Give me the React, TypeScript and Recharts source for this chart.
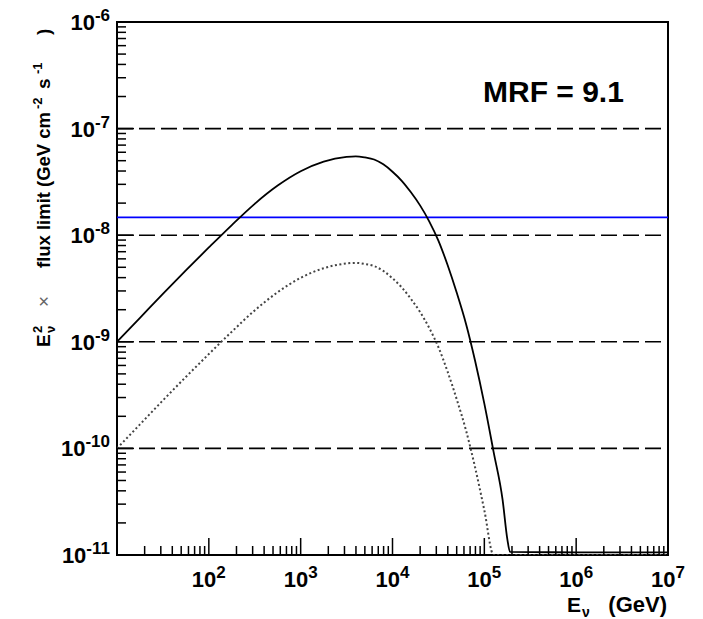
import React from "react";
import { LineChart, Line, XAxis, YAxis, ReferenceLine, ReferenceArea } from "recharts";

// Neutrino energy (GeV)
const energies = [
  10, 17.8, 31.6, 56.2, 100, 178, 316, 562, 1000, 1780, 3160, 3980, 5010, 6310,
  7940, 10000, 12600, 15800, 19950, 25100, 31600, 39800, 50100, 63100, 79400,
  100000, 126000, 158000, 178000, 190500, 1000000, 10000000,
];
// E^2 x flux limit, solid curve
const solidFlux = [
  1.0e-9, 1.68e-9, 2.82e-9, 4.68e-9, 7.67e-9, 1.245e-8, 1.97e-8, 2.92e-8, 3.98e-8,
  4.9e-8, 5.43e-8, 5.5e-8, 5.37e-8, 5.13e-8, 4.62e-8, 3.94e-8, 3.24e-8, 2.54e-8,
  1.905e-8, 1.35e-8, 8.91e-9, 5.25e-9, 2.88e-9, 1.48e-9, 6.61e-10, 2.63e-10,
  9.33e-11, 3.31e-11, 1.41e-11, 1.07e-11, 1.06e-11, 1.06e-11,
];
// E^2 x flux limit, dotted curve
const dottedFlux = [
  1.0e-10, 1.68e-10, 2.82e-10, 4.68e-10, 7.67e-10, 1.245e-9, 1.97e-9, 2.92e-9, 3.98e-9,
  4.9e-9, 5.43e-9, 5.5e-9, 5.37e-9, 5.13e-9, 4.62e-9, 3.94e-9, 3.24e-9, 2.54e-9,
  1.905e-9, 1.35e-9, 8.91e-10, 5.25e-10, 2.88e-10, 1.48e-10, 6.61e-11, 2.63e-11,
  1.0e-11, 1.0e-11, 1.0e-11, 1.0e-11, 1.0e-11, 1.0e-11,
];
const blueLimit = 1.47e-8;
const gridDecades = [1e-7, 1e-8, 1e-9, 1e-10];
const xDecadeExps = [1, 2, 3, 4, 5, 6, 7];
const yDecadeExps = [-11, -10, -9, -8, -7, -6];
const minorMultipliers = [2, 3, 4, 5, 6, 7, 8, 9];
const xLabelExps = [2, 3, 4, 5, 6, 7];

const buildTicks = (exps: number[]) => {
  const t: number[] = [];
  exps.forEach((e, i) => {
    t.push(Math.pow(10, e));
    if (i < exps.length - 1) minorMultipliers.forEach((m) => t.push(m * Math.pow(10, e)));
  });
  return t;
};
const xTicks = buildTicks(xDecadeExps);
const yTicks = buildTicks(yDecadeExps);

const data = energies.map((e, i) => ({ e, solid: solidFlux[i], dotted: dottedFlux[i] }));

const FONT = "'Liberation Sans', Arial, Helvetica, sans-serif";

const decadeOf = (v: number) => {
  const exp = Math.round(Math.log10(v));
  const major = Math.abs(v - Math.pow(10, exp)) / v < 1e-6;
  return { exp, major };
};

const XTick = (props: any) => {
  const { x, y, payload } = props;
  const { exp, major } = decadeOf(payload.value);
  const len = major ? 17 : 9;
  return (
    <g>
      <line x1={x} y1={y} x2={x} y2={y - len} stroke="#000" strokeWidth={1.5} />
      {major && xLabelExps.includes(exp) && (
        <text x={x} y={y + 32} textAnchor="middle" fontSize={22} fontWeight="bold" fontFamily={FONT} fill="#000">
          10<tspan dy={-9} fontSize={17}>{exp}</tspan>
        </text>
      )}
    </g>
  );
};

const YTick = (props: any) => {
  const { x, y, payload } = props;
  const { exp, major } = decadeOf(payload.value);
  const len = major ? 17 : 9;
  return (
    <g>
      <line x1={x} y1={y} x2={x + len} y2={y} stroke="#000" strokeWidth={1.5} />
      {major && (
        <text x={x - 7} y={y + 8} textAnchor="end" fontSize={22} fontWeight="bold" fontFamily={FONT} fill="#000">
          10<tspan dy={-9} fontSize={17}>{exp}</tspan>
        </text>
      )}
    </g>
  );
};

export default function App() {
  return (
    <div style={{ position: "absolute", left: 0, top: 0, width: 703, height: 619, background: "#fff" }}>
      <LineChart width={703} height={619} data={data} margin={{ top: 22, right: 35, bottom: 24, left: 57 }}>
        <XAxis
          dataKey="e"
          type="number"
          scale="log"
          domain={[10, 1e7]}
          allowDataOverflow
          ticks={xTicks}
          interval={0}
          tick={<XTick />}
          tickLine={false}
          tickSize={0}
          tickMargin={0}
          axisLine={false}
          height={40}
        />
        <YAxis
          type="number"
          scale="log"
          domain={[1e-11, 1e-6]}
          allowDataOverflow
          ticks={yTicks}
          interval={0}
          tick={<YTick />}
          tickLine={false}
          tickSize={0}
          tickMargin={0}
          axisLine={false}
          width={60}
        />
        {gridDecades.map((g) => (
          <ReferenceLine key={g} y={g} stroke="#000" strokeWidth={1.6} strokeDasharray="16 6" />
        ))}
        <ReferenceLine y={blueLimit} stroke="#0000ff" strokeWidth={1.6} />
        <Line type="monotone" dataKey="dotted" stroke="#444" strokeWidth={2} strokeDasharray="2 2.5" dot={false} isAnimationActive={false} />
        <Line type="monotone" dataKey="solid" stroke="#000" strokeWidth={1.8} dot={false} isAnimationActive={false} />
        <ReferenceArea x1={10} x2={1e7} y1={1e-11} y2={1e-6} fill="none" fillOpacity={0} stroke="#000" strokeWidth={2} />
      </LineChart>
      <svg width={703} height={619} style={{ position: "absolute", left: 0, top: 0, pointerEvents: "none" }}>
        <g transform="translate(50,347) rotate(-90)" fontFamily={FONT} fontWeight="bold" fontSize={19} fill="#000">
          <text x={0} y={0}>E</text>
          <text x={14} y={-8} fontSize={13}>2</text>
          <text x={14} y={5} fontSize={13}>ν</text>
          <text x={40} y={0} fontWeight="normal" fill="#666">×</text>
          <text x={79} y={0} textLength={156} lengthAdjust="spacingAndGlyphs">flux limit (GeV cm</text>
          <text x={238} y={-8} fontSize={13}>-2</text>
          <text x={258} y={0}>s</text>
          <text x={273} y={-8} fontSize={13}>-1</text>
          <text x={312} y={0}>)</text>
        </g>
        <g fontFamily={FONT} fontWeight="bold" fill="#000">
          <text x={567} y={612} fontSize={21}>E</text>
          <text x={582} y={617} fontSize={14}>ν</text>
          <text x={667} y={612} fontSize={22} textAnchor="end">(GeV)</text>
          <text x={483} y={102} fontSize={30}>MRF = 9.1</text>
        </g>
      </svg>
    </div>
  );
}
